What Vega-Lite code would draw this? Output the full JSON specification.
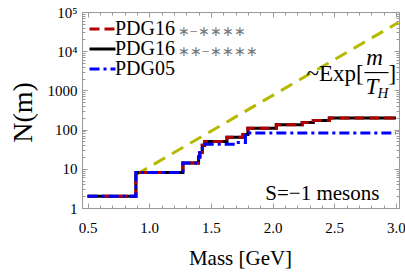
{
  "$schema": "https://vega.github.io/schema/vega-lite/v6.json",
  "width": 317,
  "height": 196,
  "autosize": {"type": "none"},
  "padding": {"left": 82, "top": 12, "right": 6, "bottom": 64},
  "background": "white",
  "config": {
    "view": {"stroke": "#999"},
    "font": "Liberation Serif, Times New Roman, serif",
    "axis": {"domainColor": "#999", "tickColor": "#999", "labelFont": "Liberation Serif, Times New Roman, serif", "labelFontSize": 15, "labelColor": "black", "titleFont": "Liberation Serif, Times New Roman, serif", "titleFontWeight": "normal", "titleColor": "black", "grid": false, "labelOverlap": false, "labelFlush": false},
    "legend": {"labelFont": "Liberation Serif, Times New Roman, serif", "labelFontSize": 20, "labelColor": "black"},
    "text": {"font": "Liberation Serif, Times New Roman, serif"}
  },
  "datasets": {
    "exp": [{"m": 0.89, "n": 7}, {"m": 3.02, "n": 54000}],
    "pdg16": [
      {"m": 0.5, "n": 2}, {"m": 0.892, "n": 8}, {"m": 1.273, "n": 14}, {"m": 1.40, "n": 20}, {"m": 1.41, "n": 26}, {"m": 1.43, "n": 40}, {"m": 1.45, "n": 50}, {"m": 1.63, "n": 64}, {"m": 1.76, "n": 75}, {"m": 1.80, "n": 108}, {"m": 2.03, "n": 132}, {"m": 2.24, "n": 152}, {"m": 2.33, "n": 170}, {"m": 2.46, "n": 198}, {"m": 3.0, "n": 198}
    ],
    "pdg05": [
      {"m": 0.5, "n": 2}, {"m": 0.892, "n": 8}, {"m": 1.273, "n": 14}, {"m": 1.40, "n": 20}, {"m": 1.41, "n": 26}, {"m": 1.43, "n": 42}, {"m": 1.70, "n": 47}, {"m": 1.78, "n": 82}, {"m": 3.0, "n": 82}
    ]
  },
  "resolve": {"axis": {"x": "independent", "y": "independent"}},
  "layer": [
    {
      "data": {"name": "exp"},
      "mark": {"type": "line", "color": "#b8b800", "strokeWidth": 3, "strokeDash": [13, 8]},
      "encoding": {
        "x": {"field": "m", "type": "quantitative", "scale": {"domain": [0.455, 3.025], "zero": false, "nice": false},
          "axis": {"orient": "bottom", "values": [0.5,0.6,0.7,0.8,0.9,1.0,1.1,1.2,1.3,1.4,1.5,1.6,1.7,1.8,1.9,2.0,2.1,2.2,2.3,2.4,2.5,2.6,2.7,2.8,2.9,3.0],
            "labelExpr": "abs(datum.value*2-round(datum.value*2))<0.001 ? format(datum.value,'.1f') : ''",
            "tickSize": {"condition": {"test": "abs(datum.value*2-round(datum.value*2))<0.001", "value": -5}, "value": -3},
            "labelFont": "Liberation Serif, Times New Roman, serif", "labelFontSize": 15, "labelColor": "black",
            "titleFont": "Liberation Serif, Times New Roman, serif", "titleFontWeight": "normal", "titleColor": "black",
            "labelPadding": 17, "title": "Mass [GeV]", "titleFontSize": 21, "titleX": 158, "titleY": 50, "titleBaseline": "middle", "titleAlign": "center"}},
        "y": {"field": "n", "type": "quantitative", "scale": {"type": "log", "domain": [1, 100000], "nice": false},
          "axis": {"orient": "left", "values": [1,2,3,4,5,6,7,8,9,10,20,30,40,50,60,70,80,90,100,200,300,400,500,600,700,800,900,1000,2000,3000,4000,5000,6000,7000,8000,9000,10000,20000,30000,40000,50000,60000,70000,80000,90000,100000],
            "labelExpr": "(abs(log(datum.value)/LN10 - round(log(datum.value)/LN10)) < 0.001) ? (datum.value > 5000 ? (datum.value > 50000 ? '10⁵' : '10⁴') : format(datum.value,'d')) : ''",
            "tickSize": {"condition": {"test": "abs(log(datum.value)/LN10 - round(log(datum.value)/LN10)) < 0.001", "value": -5}, "value": -3},
            "labelFont": "Liberation Serif, Times New Roman, serif", "labelFontSize": 15, "labelColor": "black",
            "titleFont": "Liberation Serif, Times New Roman, serif", "titleFontWeight": "normal", "titleColor": "black",
            "labelPadding": 10, "title": "N(m)", "titleFontSize": 28, "titleX": -59, "titleY": 100, "titleAngle": -90, "titleBaseline": "middle", "titleAlign": "center"}}
      }
    },
    {
      "data": {"name": "pdg16"},
      "mark": {"type": "line", "interpolate": "step-after", "strokeWidth": 3},
      "encoding": {
        "x": {"field": "m", "type": "quantitative",
          "axis": {"orient": "top", "labels": false, "title": null, "values": [0.5,0.6,0.7,0.8,0.9,1.0,1.1,1.2,1.3,1.4,1.5,1.6,1.7,1.8,1.9,2.0,2.1,2.2,2.3,2.4,2.5,2.6,2.7,2.8,2.9,3.0],
            "tickSize": {"condition": {"test": "abs(datum.value*2-round(datum.value*2))<0.001", "value": -5}, "value": -3}}},
        "y": {"field": "n", "type": "quantitative",
          "axis": {"orient": "right", "labels": false, "title": null, "values": [1,2,3,4,5,6,7,8,9,10,20,30,40,50,60,70,80,90,100,200,300,400,500,600,700,800,900,1000,2000,3000,4000,5000,6000,7000,8000,9000,10000,20000,30000,40000,50000,60000,70000,80000,90000,100000],
            "tickSize": {"condition": {"test": "abs(log(datum.value)/LN10 - round(log(datum.value)/LN10)) < 0.001", "value": -5}, "value": -3}}},
        "color": {"datum": "PDG16 ∗∗−∗∗∗∗", "type": "nominal",
          "scale": {"domain": ["PDG16 ∗−∗∗∗∗", "PDG16 ∗∗−∗∗∗∗", "PDG05"], "range": ["#b00000", "black", "#0000ff"]},
          "legend": {"orient": "none", "legendX": 10.5, "legendY": 7, "padding": 0, "title": null, "symbolType": "M-2,0H2", "symbolSize": 169, "symbolStrokeWidth": 3, "rowPadding": 0, "labelOffset": 2.5,
            "labelFont": "Liberation Serif, Times New Roman, serif", "labelFontSize": 20, "labelColor": "black", "labelExpr": "split(datum.label, ' ')[0]"}},
        "strokeDash": {"datum": "PDG16 ∗∗−∗∗∗∗", "type": "nominal",
          "scale": {"domain": ["PDG16 ∗−∗∗∗∗", "PDG16 ∗∗−∗∗∗∗", "PDG05"], "range": [[10, 5], [1, 0], [10, 4, 3, 4]]}}
      }
    },
    {
      "data": {"name": "pdg16"},
      "mark": {"type": "line", "interpolate": "step-after", "strokeWidth": 3},
      "encoding": {
        "x": {"field": "m", "type": "quantitative", "axis": null},
        "y": {"field": "n", "type": "quantitative", "axis": null},
        "color": {"datum": "PDG16 ∗−∗∗∗∗", "type": "nominal"},
        "strokeDash": {"datum": "PDG16 ∗−∗∗∗∗", "type": "nominal"}
      }
    },
    {
      "data": {"name": "pdg05"},
      "mark": {"type": "line", "interpolate": "step-after", "strokeWidth": 3},
      "encoding": {
        "x": {"field": "m", "type": "quantitative", "axis": null},
        "y": {"field": "n", "type": "quantitative", "axis": null},
        "color": {"datum": "PDG05", "type": "nominal"},
        "strokeDash": {"datum": "PDG05", "type": "nominal"}
      }
    },
    {
      "data": {"values": [{}]},
      "mark": {"type": "text", "font": "Liberation Serif, Times New Roman, serif", "fontSize": 14, "color": "#777", "align": "left", "baseline": "middle"},
      "encoding": {"x": {"datum": 1.232, "type": "quantitative", "axis": null}, "y": {"datum": 31000, "type": "quantitative", "axis": null}, "text": {"value": "∗−∗∗∗∗"}}
    },
    {
      "data": {"values": [{}]},
      "mark": {"type": "text", "font": "Liberation Serif, Times New Roman, serif", "fontSize": 14, "color": "#777", "align": "left", "baseline": "middle"},
      "encoding": {"x": {"datum": 1.232, "type": "quantitative", "axis": null}, "y": {"datum": 9800, "type": "quantitative", "axis": null}, "text": {"value": "∗∗−∗∗∗∗"}}
    },
    {
      "data": {"values": [{}]},
      "mark": {"type": "text", "font": "Liberation Serif, Times New Roman, serif", "fontSize": 23, "color": "black", "align": "right", "baseline": "middle"},
      "encoding": {"x": {"datum": 2.738, "type": "quantitative", "axis": null}, "y": {"datum": 2600, "type": "quantitative", "axis": null}, "text": {"value": "~Exp["}}
    },
    {
      "data": {"values": [{}]},
      "mark": {"type": "text", "font": "Liberation Serif, Times New Roman, serif", "fontSize": 23, "fontStyle": "italic", "color": "black", "align": "center", "baseline": "middle"},
      "encoding": {"x": {"datum": 2.826, "type": "quantitative", "axis": null}, "y": {"datum": 6700, "type": "quantitative", "axis": null}, "text": {"value": "m"}}
    },
    {
      "data": {"values": [{}]},
      "mark": {"type": "rule", "color": "black", "strokeWidth": 1.2},
      "encoding": {"x": {"datum": 2.745, "type": "quantitative", "axis": null}, "x2": {"datum": 2.94}, "y": {"datum": 2850, "type": "quantitative", "axis": null}}
    },
    {
      "data": {"values": [{}]},
      "mark": {"type": "text", "font": "Liberation Serif, Times New Roman, serif", "fontSize": 23, "fontStyle": "italic", "color": "black", "align": "center", "baseline": "middle"},
      "encoding": {"x": {"datum": 2.806, "type": "quantitative", "axis": null}, "y": {"datum": 1220, "type": "quantitative", "axis": null}, "text": {"value": "T"}}
    },
    {
      "data": {"values": [{}]},
      "mark": {"type": "text", "font": "Liberation Serif, Times New Roman, serif", "fontSize": 15, "fontStyle": "italic", "color": "black", "align": "center", "baseline": "middle"},
      "encoding": {"x": {"datum": 2.895, "type": "quantitative", "axis": null}, "y": {"datum": 840, "type": "quantitative", "axis": null}, "text": {"value": "H"}}
    },
    {
      "data": {"values": [{}]},
      "mark": {"type": "text", "font": "Liberation Serif, Times New Roman, serif", "fontSize": 23, "color": "black", "align": "center", "baseline": "middle"},
      "encoding": {"x": {"datum": 2.97, "type": "quantitative", "axis": null}, "y": {"datum": 2600, "type": "quantitative", "axis": null}, "text": {"value": "]"}}
    },
    {
      "data": {"values": [{}]},
      "mark": {"type": "text", "font": "Liberation Serif, Times New Roman, serif", "fontSize": 21, "color": "black", "align": "center", "baseline": "middle"},
      "encoding": {"x": {"datum": 2.404, "type": "quantitative", "axis": null}, "y": {"datum": 2.31, "type": "quantitative", "axis": null}, "text": {"value": "S=−1 mesons"}}
    }
  ]
}
